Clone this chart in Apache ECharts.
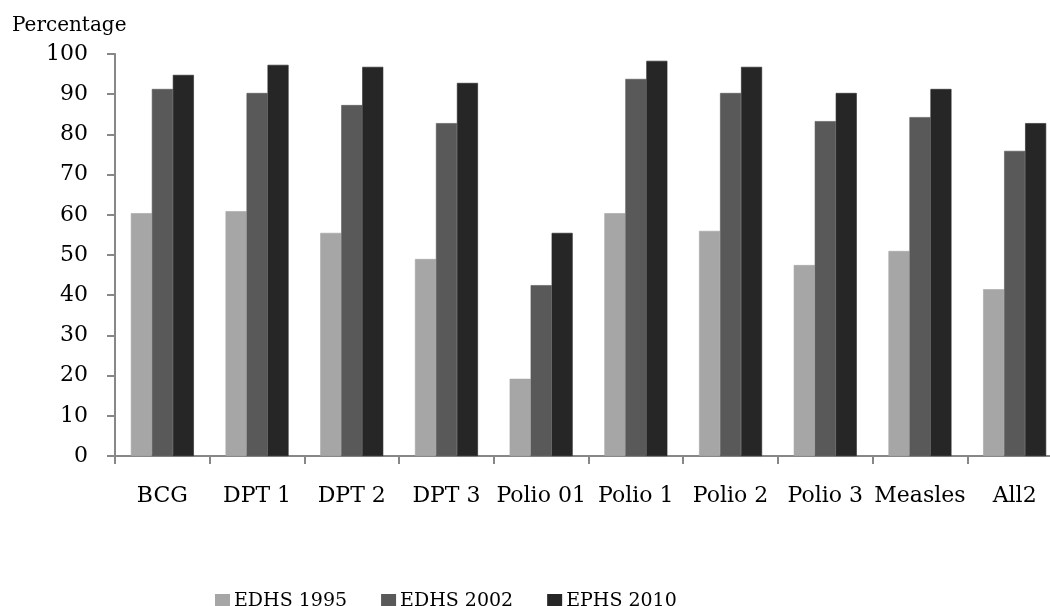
<!DOCTYPE html>
<html>
<head>
<meta charset="utf-8">
<script src="https://cdn.jsdelivr.net/npm/echarts@6/dist/echarts.min.js"></script>
<style>
  html, body { margin: 0; padding: 0; background: #fff; }
  #chart { width: 1050px; height: 606px; }
</style>
</head>
<body>
<div id="chart"></div>
<script>
  var categories = ['BCG', 'DPT 1', 'DPT 2', 'DPT 3', 'Polio 01', 'Polio 1', 'Polio 2', 'Polio 3', 'Measles', 'All2'];
  var edhs1995 = [60.4, 60.9, 55.5, 49.0, 19.2, 60.4, 56.0, 47.5, 51.0, 41.5];
  var edhs2002 = [91.3, 90.3, 87.3, 82.8, 42.5, 93.8, 90.3, 83.3, 84.3, 75.9];
  var ephs2010 = [94.8, 97.3, 96.8, 92.8, 55.5, 98.3, 96.8, 90.3, 91.3, 82.8];
  var seriesNames = ['EDHS 1995', 'EDHS 2002', 'EPHS 2010'];
  var colors = ['#a6a6a6', '#595959', '#262626'];

  var font = 'DejaVu Serif';
  var myChart = echarts.init(document.getElementById('chart'));

  function bar(name, data, color) {
    return {
      name: name,
      type: 'bar',
      data: data,
      barWidth: 21,
      barGap: '0%',
      // thin border of the same colour hides the seams between bars
      itemStyle: { color: color, borderColor: color, borderWidth: 0.6 },
      animation: false
    };
  }

  var option = {
    backgroundColor: '#fff',
    color: colors,
    textStyle: { fontFamily: font, color: '#000' },
    // plot runs a bit past the right edge of the picture, like the source
    grid: { left: 115, width: 947, top: 54, height: 402, outerBoundsMode: 'none', containLabel: false },
    legend: {
      top: 587,
      left: 210,
      itemWidth: 13,
      itemHeight: 13,
      itemGap: 34,
      icon: 'rect',
      textStyle: { fontFamily: font, fontSize: 19, color: '#000' },
      data: seriesNames
    },
    xAxis: {
      type: 'category',
      data: categories,
      axisLine: { lineStyle: { color: '#878787', width: 2 } },
      axisTick: { show: true, length: 8, lineStyle: { color: '#878787', width: 2 } },
      axisLabel: { fontFamily: font, fontSize: 22, color: '#000', margin: 29, interval: 0 }
    },
    yAxis: {
      type: 'value',
      name: 'Percentage',
      nameLocation: 'end',
      nameGap: 18,
      nameTextStyle: { fontFamily: font, fontSize: 20, color: '#000', align: 'left', padding: [0, 0, 0, -103] },
      min: 0,
      max: 100,
      interval: 10,
      splitLine: { show: false },
      axisLine: { show: true, lineStyle: { color: '#878787', width: 2 } },
      axisTick: { show: true, length: 8, lineStyle: { color: '#878787', width: 2 } },
      axisLabel: { fontFamily: font, fontSize: 22, color: '#000', margin: 27 }
    },
    series: [
      bar(seriesNames[0], edhs1995, colors[0]),
      bar(seriesNames[1], edhs2002, colors[1]),
      bar(seriesNames[2], ephs2010, colors[2])
    ]
  };

  myChart.setOption(option);
</script>
</body>
</html>
